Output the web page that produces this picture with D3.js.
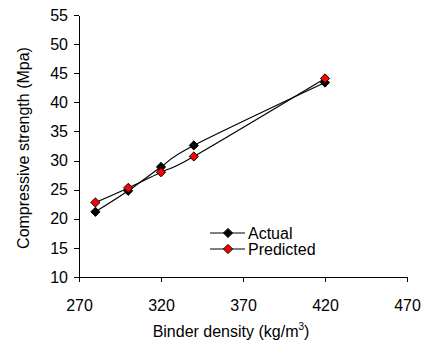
<!DOCTYPE html>
<html>
<head>
<meta charset="utf-8">
<script src="https://cdn.jsdelivr.net/npm/d3@7"></script>
<style>
  body { margin: 0; background: #fff; }
  text { font-family: Arial, "Liberation Sans", sans-serif; fill: #000; }
</style>
</head>
<body>
<div id="chart"></div>
<script>
const density = [280, 300, 320, 340, 420]
const actual = [21.2, 24.8, 28.9, 32.6, 43.4]
const predicted = [22.8, 25.3, 28.0, 30.7, 44.1]
const xTicks = [270, 320, 370, 420, 470]
const yTicks = [10, 15, 20, 25, 30, 35, 40, 45, 50, 55]
const seriesNames = ["Actual", "Predicted"]
const seriesColors = ["#000000", "#ff0000"]

const width = 425, height = 348

const svg = d3.select("#chart").append("svg")
    .attr("width", width)
    .attr("height", height)

const x = d3.scaleLinear().domain([270, 470]).range([79, 407])
const y = d3.scaleLinear().domain([10, 55]).range([277, 15])

// y axis
svg.append("g")
    .attr("transform", "translate(79,0)")
    .call(d3.axisLeft(y).tickValues(yTicks).tickSize(5).tickSizeOuter(0).tickPadding(6))
    .call(g => g.selectAll("text").style("font-size", "16px").attr("font-family", null))
    .call(g => g.selectAll("line,path").attr("stroke", "#000").attr("shape-rendering", "crispEdges"))

// x axis
svg.append("g")
    .attr("transform", "translate(0,277)")
    .call(d3.axisBottom(x).tickValues(xTicks).tickSize(5).tickSizeOuter(0).tickPadding(18))
    .call(g => g.selectAll("text").style("font-size", "16px").attr("font-family", null))
    .call(g => g.selectAll("line,path").attr("stroke", "#000").attr("shape-rendering", "crispEdges"))

// axis titles
svg.append("text")
    .attr("transform", "translate(29,148) rotate(-90)")
    .attr("text-anchor", "middle")
    .style("font-size", "16px")
    .text("Compressive strength (Mpa)")

const xt = svg.append("text")
    .attr("x", 231)
    .attr("y", 337)
    .attr("text-anchor", "middle")
    .style("font-size", "16px")
xt.append("tspan").text("Binder density (kg/m")
xt.append("tspan").attr("dy", -7).style("font-size", "10px").text("3")
xt.append("tspan").attr("dy", 7).text(")")

const series = [actual, predicted]

const line = d3.line()
    .x(d => x(d[0]))
    .y(d => y(d[1]))
    .curve(d3.curveCardinal.tension(0))

const diamond = (g, cx, cy, fill) => {
    const r = 4.6
    g.append("path")
        .attr("d", `M${cx},${cy - r}L${cx + r},${cy}L${cx},${cy + r}L${cx - r},${cy}Z`)
        .attr("fill", fill)
        .attr("stroke", "#000")
        .attr("stroke-width", 1)
}

series.forEach((vals, i) => {
    const pts = density.map((d, j) => [d, vals[j]])
    svg.append("path")
        .datum(pts)
        .attr("d", line)
        .attr("fill", "none")
        .attr("stroke", "#000")
        .attr("stroke-width", 1.2)
})
series.forEach((vals, i) => {
    const g = svg.append("g")
    density.forEach((d, j) => diamond(g, x(d), y(vals[j]), seriesColors[i]))
})

// legend
seriesNames.forEach((name, i) => {
    const ly = 233 + i * 16
    svg.append("line")
        .attr("x1", 210).attr("x2", 245)
        .attr("y1", ly).attr("y2", ly)
        .attr("stroke", "#000").attr("stroke-width", 1.2)
    diamond(svg, 228, ly, seriesColors[i])
    svg.append("text")
        .attr("x", 248)
        .attr("y", ly + 5.5)
        .style("font-size", "16px")
        .text(name)
})
</script>
</body>
</html>
